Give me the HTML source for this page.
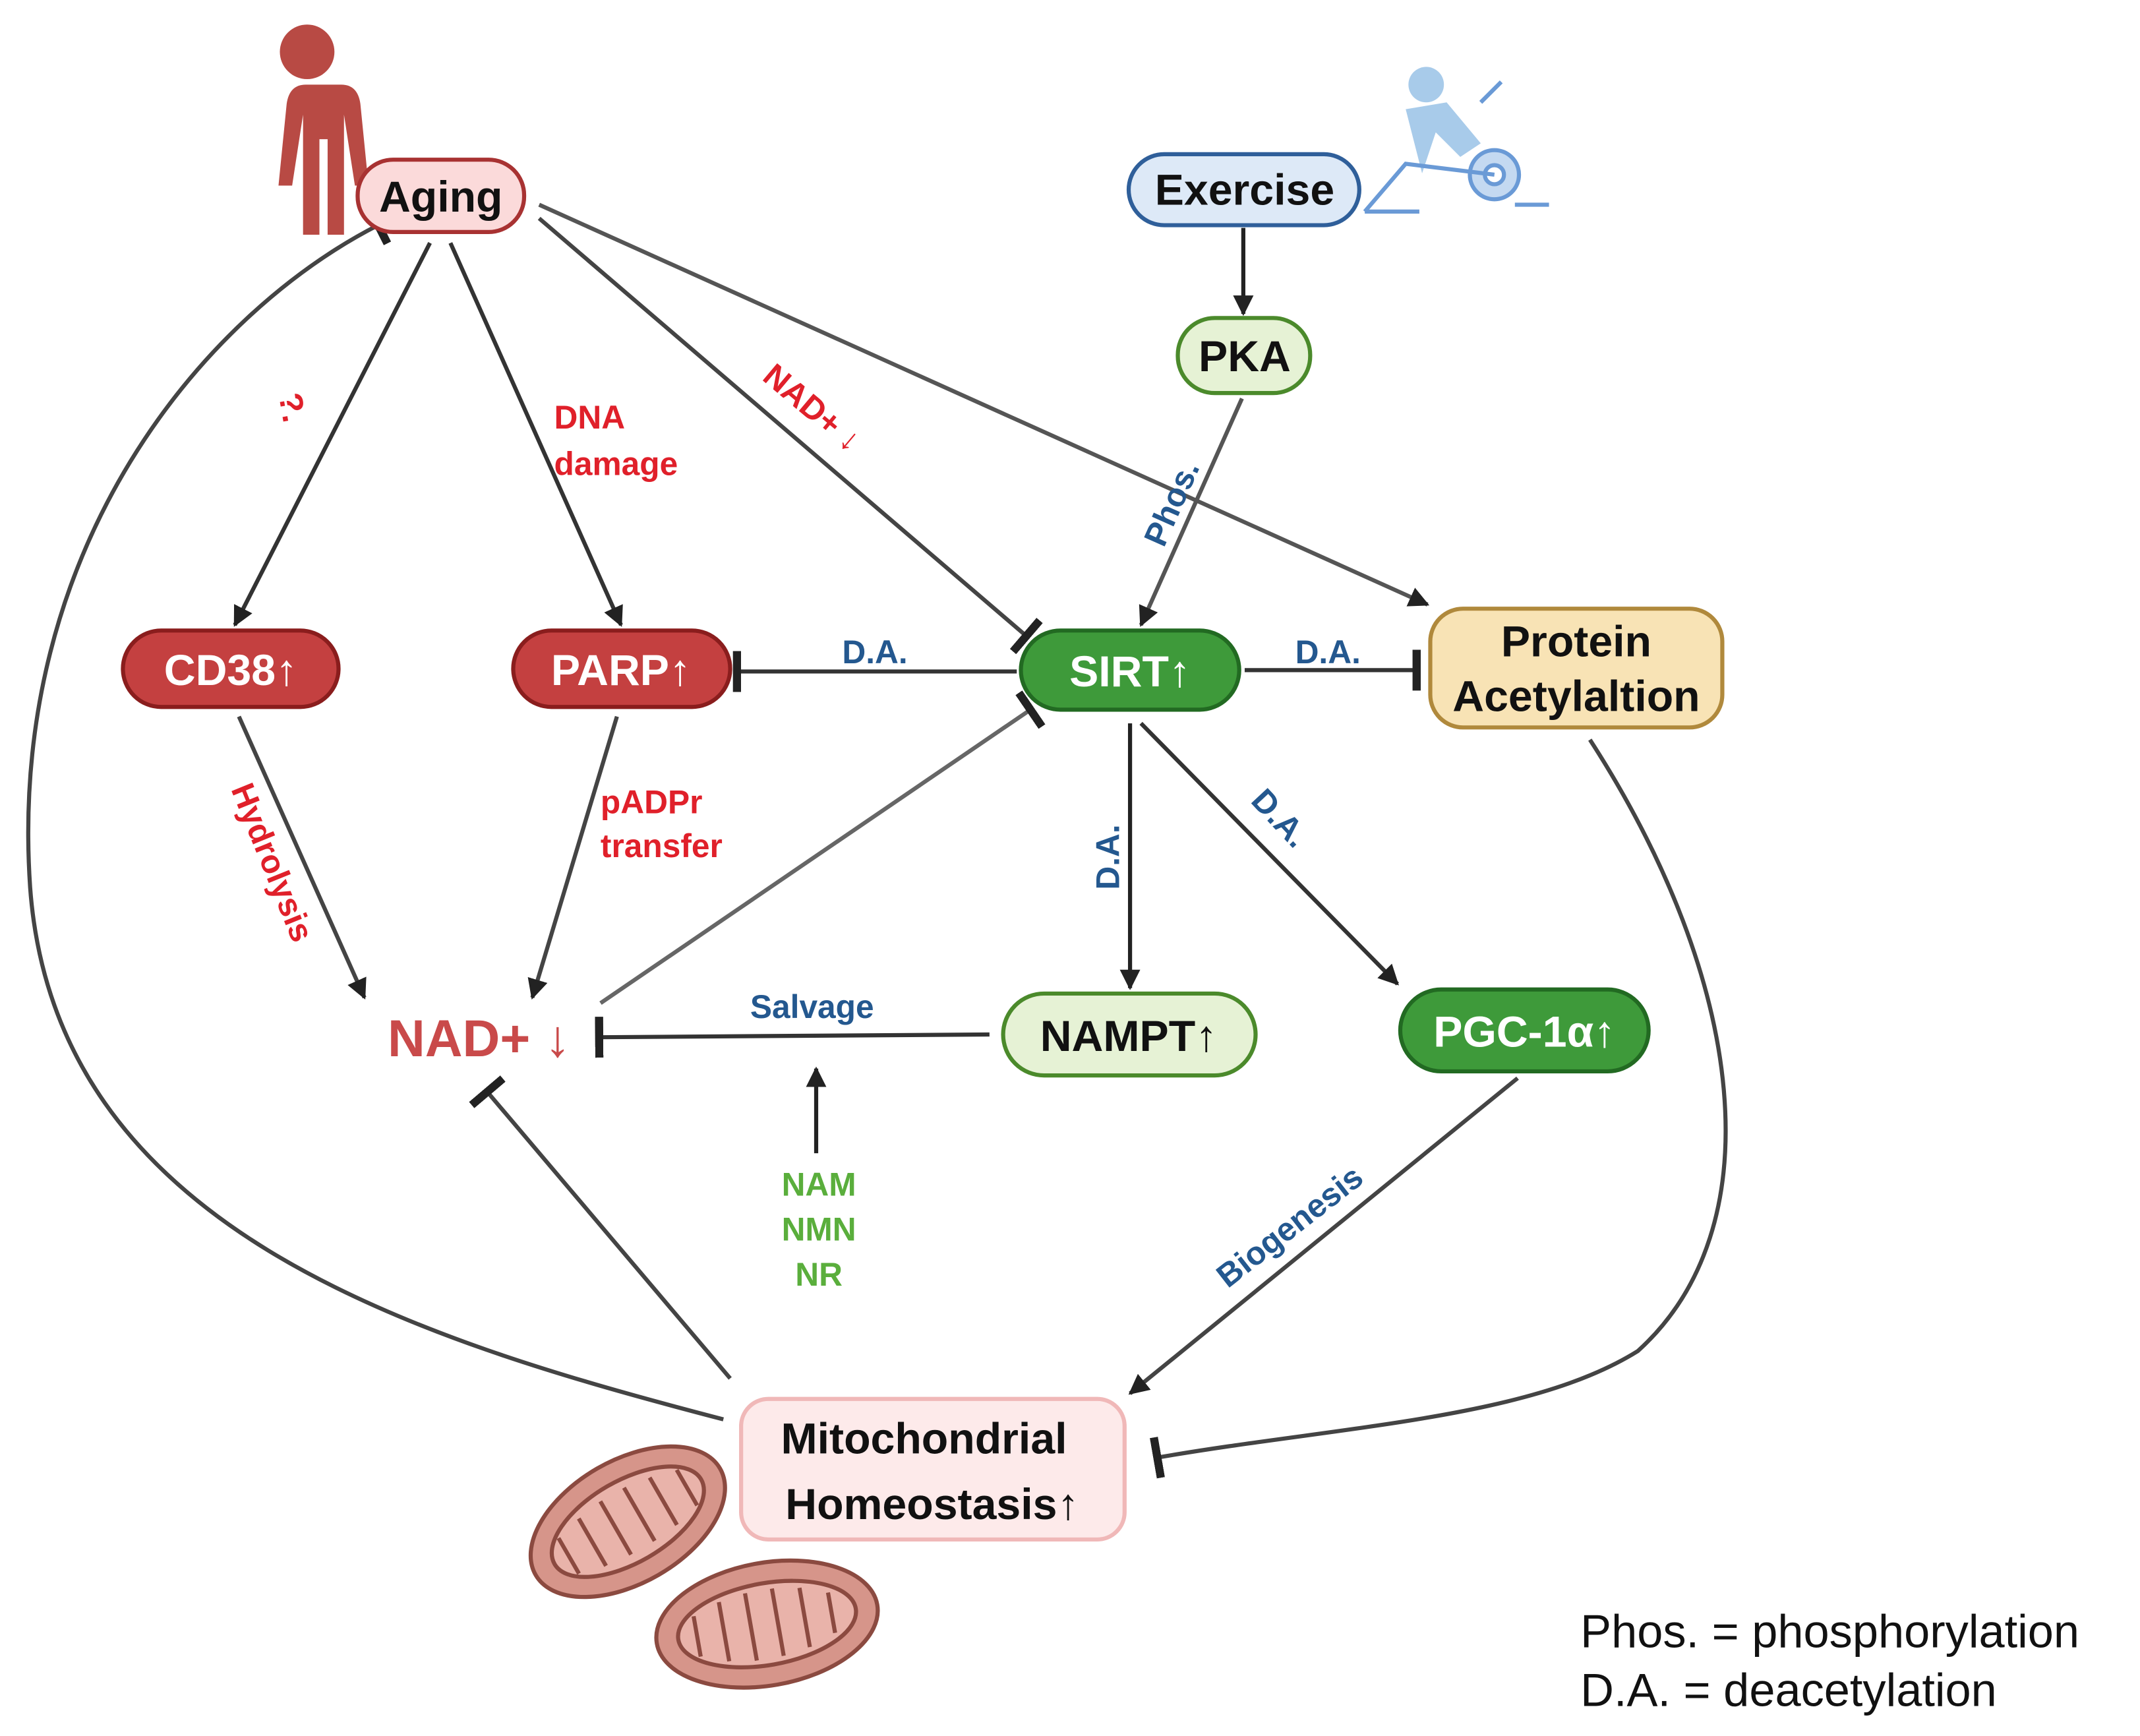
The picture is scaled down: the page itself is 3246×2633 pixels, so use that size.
<!DOCTYPE html>
<html><head><meta charset="utf-8"><style>
html,body{margin:0;padding:0;background:#fff}
svg{display:block}
text{font-family:"Liberation Sans",sans-serif;font-weight:bold}
</style></head><body>
<svg width="3246" height="2633" viewBox="0 0 1568 1272" xmlns="http://www.w3.org/2000/svg">
<defs>
<marker id="ar" viewBox="0 0 10 10" refX="9" refY="5" markerWidth="5" markerHeight="5" orient="auto"><path d="M0,0 L10,5 L0,10 z" fill="#222"/></marker>
<marker id="tb" viewBox="0 0 4 20" refX="2" refY="10" markerWidth="2" markerHeight="10" orient="auto"><rect x="0" y="0" width="4" height="20" fill="#222"/></marker>
</defs>
<rect width="1568" height="1272" fill="#fff"/>
<g fill="none" stroke-width="3">
<path d="M315,178 L172,458" stroke="#333" marker-end="url(#ar)"/>
<path d="M330,178 L455,458" stroke="#333" marker-end="url(#ar)"/>
<path d="M395,160 L752,466" stroke="#444" marker-end="url(#tb)"/>
<path d="M395,150 L1046,443" stroke="#555" marker-end="url(#ar)"/>
<path d="M911,167 L911,230" stroke="#222" marker-end="url(#ar)"/>
<path d="M910,292 L836,458" stroke="#555" marker-end="url(#ar)"/>
<path d="M745,492 L540,492" stroke="#333" marker-end="url(#tb)"/>
<path d="M912,491 L1038,491" stroke="#333" marker-end="url(#tb)"/>
<path d="M828,530 L828,724" stroke="#222" marker-end="url(#ar)"/>
<path d="M836,530 L1024,721" stroke="#333" marker-end="url(#ar)"/>
<path d="M175,525 L267,731" stroke="#444" marker-end="url(#ar)"/>
<path d="M452,525 L390,731" stroke="#444" marker-end="url(#ar)"/>
<path d="M440,735 L755,520" stroke="#666" marker-end="url(#tb)"/>
<path d="M725,758 L439,760" stroke="#333" marker-end="url(#tb)"/>
<path d="M598,845 L598,783" stroke="#222" marker-end="url(#ar)"/>
<path d="M1112,790 L828,1021" stroke="#444" marker-end="url(#ar)"/>
<path d="M1165,542 C1280,720 1300,900 1200,990 C1120,1040 980,1045 848,1068" stroke="#444" marker-end="url(#tb)"/>
<path d="M535,1010 L357,800" stroke="#444" marker-end="url(#tb)"/>
<path d="M530,1040 C300,980 40,900 22,650 C5,400 150,230 277,165" stroke="#444" marker-end="url(#tb)"/>
</g>
<g fill="#b84a44">
<circle cx="225" cy="38" r="20"/>
<path d="M200,62 h50 q12,0 14,14 l6,60 h-10 l-8,-52 v88 h-12 v-70 h-6 v70 h-12 v-88 l-8,52 h-10 l6,-60 q2,-14 14,-14z"/>
</g>
<g fill="#a8cbea" stroke="#6a9ad6" stroke-width="3">
<circle cx="1045" cy="62" r="13" stroke="none"/>
<path d="M1030,80 l30,-5 l25,30 l-15,10 l-18,-18 l-10,30 z" stroke="none"/>
<circle cx="1095" cy="128" r="18" fill="#c4d9f1"/>
<circle cx="1095" cy="128" r="7" fill="#fff"/>
<path d="M1000,155 L1030,120 L1095,128 M1110,150 h25 M1000,155 h40 M1085,75 l15,-15" fill="none"/>
</g>
<g fill="#d6958a" stroke="#8b4a40" stroke-width="3">
<g transform="rotate(-30 460 1115)"><ellipse cx="460" cy="1115" rx="78" ry="45"/><ellipse cx="460" cy="1115" rx="62" ry="30" fill="#e9b3aa"/><path d="M410,1100 v30 M430,1095 v40 M450,1092 v45 M470,1092 v45 M490,1095 v40 M510,1100 v30" fill="none"/></g>
<g transform="rotate(-10 562 1190)"><ellipse cx="562" cy="1190" rx="82" ry="45"/><ellipse cx="562" cy="1190" rx="66" ry="30" fill="#e9b3aa"/><path d="M510,1175 v30 M530,1168 v44 M550,1165 v50 M570,1165 v50 M590,1168 v44 M610,1175 v30" fill="none"/></g>
</g>
<g stroke-width="3">
<rect x="262" y="117" width="122" height="53" rx="26" fill="#fbdada" stroke="#a83232"/>
<rect x="827" y="113" width="169" height="52" rx="26" fill="#dde9f7" stroke="#2f5f9a"/>
<rect x="863" y="233" width="97" height="55" rx="27" fill="#e6f2d5" stroke="#4b8a2b"/>
<rect x="90" y="462" width="158" height="56" rx="28" fill="#c44040" stroke="#8a1d1d"/>
<rect x="376" y="462" width="159" height="56" rx="28" fill="#c44040" stroke="#8a1d1d"/>
<rect x="748" y="462" width="160" height="58" rx="29" fill="#3e9a3a" stroke="#226a22"/>
<rect x="1048" y="446" width="214" height="87" rx="24" fill="#f8e3b5" stroke="#b0893c"/>
<rect x="735" y="728" width="185" height="60" rx="30" fill="#e6f2d5" stroke="#4b8a2b"/>
<rect x="1026" y="725" width="182" height="60" rx="30" fill="#3e9a3a" stroke="#226a22"/>
<rect x="543" y="1025" width="281" height="103" rx="20" fill="#fdeaea" stroke="#f0b8b8"/>
</g>
<g text-anchor="middle" font-size="32">
<text x="323" y="155" fill="#111">Aging</text>
<text x="912" y="150" fill="#111">Exercise</text>
<text x="912" y="272" fill="#111">PKA</text>
<text x="169" y="502" fill="#fff">CD38↑</text>
<text x="455" y="502" fill="#fff">PARP↑</text>
<text x="828" y="503" fill="#fff">SIRT↑</text>
<text x="1155" y="481" fill="#111">Protein</text>
<text x="1155" y="521" fill="#111">Acetylaltion</text>
<text x="827" y="770" fill="#111">NAMPT↑</text>
<text x="1117" y="767" fill="#fff">PGC-1α↑</text>
<text x="677" y="1065" fill="#111">Mitochondrial</text>
<text x="683" y="1113" fill="#111">Homeostasis↑</text>
<text x="351" y="774" fill="#c94a4a" font-size="38">NAD+ ↓</text>
</g>
<g font-size="24">
<text x="641" y="486" fill="#24588f" text-anchor="middle">D.A.</text>
<text x="973" y="486" fill="#24588f" text-anchor="middle">D.A.</text>
<text x="595" y="746" fill="#24588f" text-anchor="middle">Salvage</text>
<text transform="translate(820,628) rotate(-90)" fill="#24588f" text-anchor="middle">D.A.</text>
<text transform="translate(932,605) rotate(47)" fill="#24588f" text-anchor="middle">D.A.</text>
<text transform="translate(866,372) rotate(-66)" fill="#24588f" text-anchor="middle">Phos.</text>
<text transform="translate(950,905) rotate(-38)" fill="#24588f" text-anchor="middle">Biogenesis</text>
<text transform="translate(590,305) rotate(40)" fill="#e0202a" text-anchor="middle">NAD+ ↓</text>
<text transform="translate(206,300) rotate(80)" fill="#e0202a" text-anchor="middle">?.</text>
<text transform="translate(192,635) rotate(68)" fill="#e0202a" text-anchor="middle">Hydrolysis</text>
<text x="406" y="314" fill="#e0202a">DNA</text>
<text x="406" y="348" fill="#e0202a">damage</text>
<text x="440" y="596" fill="#e0202a">pADPr</text>
<text x="440" y="628" fill="#e0202a">transfer</text>
<text x="600" y="876" fill="#5aae3c" text-anchor="middle">NAM</text>
<text x="600" y="909" fill="#5aae3c" text-anchor="middle">NMN</text>
<text x="600" y="942" fill="#5aae3c" text-anchor="middle">NR</text>
</g>
<g font-size="34" fill="#111">
<text x="1158" y="1207" style="font-weight:normal">Phos. = phosphorylation</text>
<text x="1158" y="1250" style="font-weight:normal">D.A. = deacetylation</text>
</g>
</svg>
</body></html>
